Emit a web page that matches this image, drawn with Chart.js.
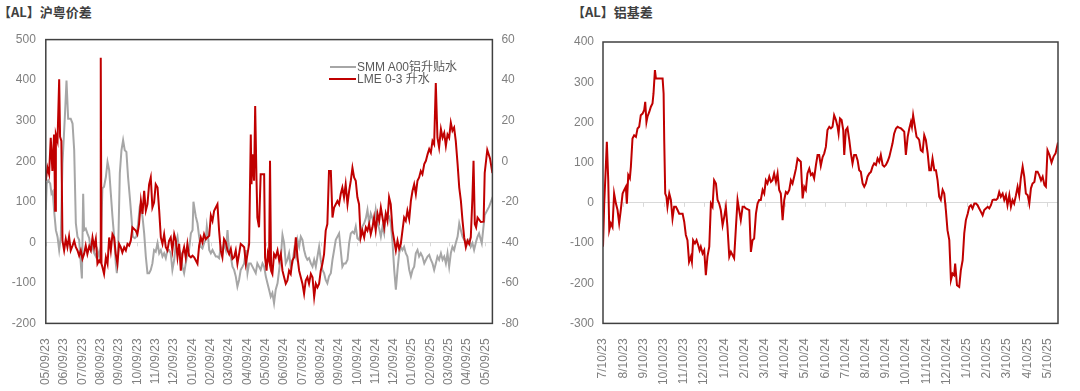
<!DOCTYPE html>
<html><head><meta charset="utf-8">
<script src="https://cdn.jsdelivr.net/npm/chart.js@4.4.1/dist/chart.umd.min.js"></script>
<style>
html,body{margin:0;padding:0;background:#fff;width:1080px;height:391px;overflow:hidden;position:relative;font-family:"Liberation Sans",Arial,"Noto Sans CJK SC",sans-serif;}
canvas{position:absolute;top:0;}
.title{position:absolute;top:2px;font:bold 13px "Noto Sans CJK SC","Liberation Sans",sans-serif;color:#404040;white-space:nowrap;}
.lg{position:absolute;font:12px "Liberation Sans",Arial,"Noto Sans CJK SC",sans-serif;color:#595959;white-space:nowrap;line-height:14px;}
.ln{position:absolute;}
</style></head>
<body>
<div class="title" style="left:-2px">【AL】沪粤价差</div>
<div class="title" style="left:572px">【AL】铝基差</div>
<canvas id="c1" width="540" height="391" style="left:0"></canvas>
<canvas id="c2" width="540" height="391" style="left:540px"></canvas>
<div class="ln" style="left:330px;top:66px;width:26px;height:2px;background:#a6a6a6"></div>
<div class="lg" style="left:357px;top:60px">SMM A00铝升贴水</div>
<div class="ln" style="left:329px;top:77.5px;width:27px;height:2.5px;background:#c00000"></div>
<div class="lg" style="left:357px;top:72px">LME 0-3 升水</div>
<script>
// ---------- left chart: 沪粤价差 ----------
const leftTickLabels = ["05/09/23","06/09/23","07/09/23","08/09/23","09/09/23","10/09/23","11/09/23","12/09/23","01/09/24","02/09/24","03/09/24","04/09/24","05/09/24","06/09/24","07/09/24","08/09/24","09/09/24","10/09/24","11/09/24","12/09/24","01/09/25","02/09/25","03/09/25","04/09/25","05/09/25"];
// x positions in months after 05/09/23
const smmMonths = [0,0.05,0.13,0.24,0.31,0.38,0.45,0.55,0.64,0.73,0.82,0.91,1.04,1.13,1.22,1.36,1.46,1.55,1.64,1.73,1.82,1.91,1.97,2.04,2.09,2.18,2.27,2.37,2.46,2.55,2.64,2.73,2.82,2.91,3.00,3.09,3.18,3.28,3.37,3.46,3.55,3.64,3.73,3.82,3.88,3.95,4.04,4.13,4.22,4.31,4.40,4.49,4.60,4.68,4.75,4.86,4.95,5.04,5.13,5.19,5.28,5.37,5.46,5.55,5.64,5.73,5.82,5.91,6.00,6.10,6.19,6.28,6.37,6.46,6.55,6.64,6.73,6.82,6.91,7.01,7.10,7.19,7.28,7.37,7.46,7.55,7.64,7.73,7.82,7.92,8.01,8.06,8.13,8.19,8.28,8.37,8.46,8.55,8.64,8.73,8.79,8.86,8.92,9.01,9.10,9.19,9.28,9.37,9.46,9.55,9.64,9.73,9.83,9.92,10.01,10.10,10.19,10.28,10.37,10.46,10.55,10.64,10.74,10.83,10.92,11.01,11.10,11.19,11.28,11.37,11.46,11.55,11.64,11.73,11.83,11.92,12.01,12.10,12.19,12.28,12.37,12.46,12.55,12.65,12.74,12.83,12.92,13.01,13.10,13.19,13.28,13.37,13.46,13.56,13.65,13.74,13.83,13.92,14.01,14.10,14.19,14.28,14.37,14.47,14.56,14.65,14.74,14.83,14.92,15.01,15.10,15.19,15.28,15.37,15.46,15.56,15.65,15.74,15.83,15.92,16.01,16.10,16.19,16.28,16.37,16.47,16.56,16.65,16.74,16.83,16.92,17.01,17.10,17.19,17.28,17.38,17.47,17.56,17.65,17.74,17.83,17.92,18.01,18.11,18.20,18.29,18.38,18.47,18.56,18.65,18.74,18.83,18.93,19.02,19.11,19.20,19.29,19.38,19.47,19.56,19.65,19.74,19.84,19.93,20.02,20.11,20.20,20.29,20.38,20.47,20.56,20.66,20.75,20.84,20.93,21.02,21.11,21.20,21.29,21.38,21.47,21.57,21.66,21.75,21.84,21.93,22.02,22.11,22.20,22.29,22.38,22.48,22.57,22.66,22.75,22.84,22.93,23.02,23.11,23.20,23.29,23.38,23.49,23.57,23.65,23.80,23.96,24.20,24.40];
const smmValues = [80,145,153,145,120,125,80,30,14,-19,14,194,309,399,305,305,293,227,47,14,6,-52,-89,120,30,34,22,10,-19,-11,-27,-35,-19,-35,-11,133,137,161,198,178,120,63,14,-52,-76,-19,170,227,252,227,223,161,104,59,14,10,14,47,88,96,63,22,-35,-76,-76,-68,-52,-19,-23,-2,-27,-19,-35,-27,-39,-19,-19,-27,-68,-43,-2,14,-19,-27,-60,-76,-52,-27,-19,22,30,100,80,63,47,14,-11,-15,-2,6,39,14,-19,-27,-19,-27,-35,-35,-39,-11,-27,-2,-19,30,-27,-35,-60,-68,-84,-109,-93,-68,-60,-52,-19,-76,-52,-52,-60,-68,-76,-52,-60,-68,-52,-60,-84,-101,-117,-134,-125,-150,-117,-101,-68,-35,18,-2,-52,-43,-27,-60,-52,-19,-35,6,-11,14,6,-19,-35,-43,-39,-52,-60,-43,-60,-35,-11,-43,-68,-76,-93,-101,-84,-76,-43,-19,6,14,22,-19,-60,-52,-52,-43,-2,22,26,22,39,10,6,22,39,47,59,80,47,71,59,47,80,47,34,14,39,22,71,59,63,47,-2,-68,-117,-68,-27,-11,-19,-11,-27,-35,-68,-84,-68,-60,-27,-19,-35,-27,-35,-52,-43,-35,-31,-43,-52,-68,-52,-35,-43,-27,-43,-35,-52,-27,-60,-27,-11,-19,-2,14,47,30,14,6,2,-2,6,-11,-2,-19,2,14,22,-2,67,88,112];
const lmeMonths = [0,0.09,0.18,0.27,0.36,0.45,0.51,0.55,0.64,0.73,0.78,0.85,0.91,1.00,1.09,1.18,1.27,1.36,1.46,1.55,1.64,1.73,1.82,1.91,2.00,2.09,2.18,2.27,2.37,2.46,2.55,2.64,2.73,2.82,2.91,2.97,3.00,3.04,3.09,3.18,3.28,3.37,3.46,3.55,3.64,3.73,3.82,3.91,4.00,4.09,4.18,4.28,4.37,4.46,4.55,4.64,4.73,4.82,4.91,5.00,5.09,5.19,5.28,5.37,5.46,5.55,5.64,5.73,5.82,5.91,6.00,6.10,6.19,6.28,6.37,6.46,6.55,6.64,6.73,6.82,6.91,7.01,7.10,7.19,7.28,7.37,7.46,7.55,7.64,7.73,7.82,7.92,8.01,8.10,8.19,8.28,8.37,8.46,8.55,8.64,8.73,8.82,8.92,9.01,9.10,9.19,9.28,9.37,9.46,9.55,9.64,9.73,9.83,9.92,10.01,10.10,10.19,10.28,10.37,10.46,10.55,10.64,10.74,10.83,10.92,11.01,11.10,11.19,11.23,11.28,11.37,11.43,11.50,11.55,11.64,11.73,11.92,11.97,12.05,12.12,12.19,12.24,12.30,12.37,12.46,12.55,12.65,12.74,12.83,12.92,13.01,13.10,13.19,13.28,13.37,13.46,13.56,13.65,13.74,13.83,13.92,14.01,14.10,14.19,14.28,14.37,14.47,14.56,14.65,14.74,14.83,14.92,15.01,15.10,15.19,15.28,15.37,15.46,15.56,15.65,15.74,15.83,15.92,16.01,16.10,16.19,16.28,16.37,16.47,16.56,16.65,16.74,16.83,16.92,17.01,17.10,17.19,17.28,17.38,17.47,17.56,17.65,17.74,17.83,17.92,18.01,18.11,18.20,18.29,18.38,18.47,18.56,18.65,18.74,18.83,18.93,19.02,19.11,19.20,19.29,19.38,19.47,19.56,19.65,19.74,19.84,19.93,20.02,20.11,20.20,20.29,20.38,20.47,20.56,20.66,20.75,20.84,20.93,21.02,21.11,21.20,21.29,21.38,21.47,21.57,21.66,21.75,21.84,21.93,22.02,22.11,22.20,22.29,22.38,22.48,22.57,22.66,22.75,22.84,22.93,23.02,23.11,23.20,23.29,23.35,23.42,23.49,23.57,23.75,23.90,23.96,24.10,24.25,24.38];
const lmeValues = [-9.6,-3.2,-6.4,11.6,-4.8,13.2,-24.4,13.2,10,40.4,12,10,-39.2,-44,-38.4,-42.4,-37.2,-44,-41.6,-39.2,-42.4,-44,-46.6,-44,-48.2,-45.8,-41.6,-45.8,-42,-44,-37.6,-42.4,-38.4,-50.6,-49,-50,51,-50.6,-52.2,-55.6,-47.4,-50.6,-37.6,-44,-36,-37.6,-45.8,-50.6,-40.8,-42.4,-45,-42.4,-44,-40.8,-41.6,-39.2,-32.6,-33.4,-34.2,-36,-31,-19.6,-26,-14.6,-24.4,-21.2,-11.4,-8,-22.8,-20.4,-11.4,-13,-24.4,-37.6,-40.8,-36,-42.4,-44,-39.2,-37.6,-44,-36,-39.2,-47.4,-40.8,-54,-45.8,-42.4,-47.4,-40.8,-46.6,-47.4,-46.6,-47.4,-49,-50.6,-41.6,-37.6,-40,-36,-38.4,-37.6,-36.8,-26.8,-29.4,-24.4,-22.8,-21.2,-34.2,-44,-47.4,-38.4,-40,-44,-45.8,-43.2,-48.2,-47.4,-44,-50.6,-45.8,-40.8,-41.6,-42.4,-50.6,-45.8,-40.8,13.2,-11.4,3.4,-9.6,27.2,-8,-27.8,-32.6,-6.4,-6.4,-47.4,-54,-45.8,-49,0.2,-54,-55.6,-45.8,-47.4,-44,-49,-45.8,-54,-57.2,-60.4,-58.8,-54,-55.6,-49,-47.4,-37.6,-47.4,-54,-57.2,-60.4,-65.4,-58.8,-57.2,-60.4,-55.6,-57.2,-67,-60.4,-62.2,-60.4,-54,-50.6,-45.8,-34.2,-31,-4.8,-4.8,-27.8,-22.8,-21.2,-19.6,-21.2,-16.2,-13,-17.8,-11.4,-21.2,-14.6,-9.6,-3.2,-8,-9.6,-17.8,-21.2,-37.6,-34.2,-37.6,-32.6,-34.2,-31,-36,-32.6,-27.8,-34.2,-26,-29.4,-22.8,-27.8,-32.6,-26,-29.4,-17.8,-21.2,-34.2,-39.2,-44,-39.2,-43.2,-40.8,-34.2,-27.8,-29.4,-24.4,-28.6,-19.6,-14.6,-11.4,-16.2,-9.6,-8,-4.8,-6.4,-1.4,0.2,3.4,6,4.2,10,8.4,38.6,11.6,6.8,15.8,11.6,14,7.6,13.2,11.6,19,15,16.6,10,-1.4,-13,-19.6,-29.4,-37.6,-42.4,-39.2,-40.8,-37.6,-17.8,0.2,-31,-32.6,-27.8,-30,-29.8,-5.8,5.6,1.4,-5.8];

// ---------- right chart: 铝基差 ----------
const rightTickLabels = ["7/10/23","8/10/23","9/10/23","10/10/23","11/10/23","12/10/23","1/10/24","2/10/24","3/10/24","4/10/24","5/10/24","6/10/24","7/10/24","8/10/24","9/10/24","10/10/24","11/10/24","12/10/24","1/10/25","2/10/25","3/10/25","4/10/25","5/10/25"];
// x positions in months after 7/10/23
const basisMonths = [0,0.06,0.14,0.19,0.26,0.31,0.39,0.47,0.55,0.64,0.72,0.80,0.88,0.97,1.05,1.13,1.18,1.25,1.33,1.38,1.46,1.54,1.63,1.71,1.79,1.87,1.96,2.04,2.09,2.15,2.20,2.29,2.37,2.45,2.50,2.57,2.62,2.95,3.00,3.03,3.08,3.14,3.19,3.28,3.36,3.44,3.52,3.61,3.69,3.77,3.94,4.02,4.10,4.18,4.26,4.35,4.40,4.46,4.55,4.63,4.71,4.78,4.84,4.93,5.01,5.09,5.17,5.26,5.34,5.42,5.50,5.59,5.67,5.75,5.83,5.92,6.00,6.08,6.16,6.25,6.33,6.41,6.49,6.58,6.66,6.74,6.82,6.91,6.99,7.07,7.24,7.32,7.40,7.48,7.57,7.65,7.73,7.81,7.90,7.98,8.06,8.14,8.23,8.31,8.39,8.47,8.56,8.64,8.72,8.80,8.89,8.97,9.05,9.13,9.22,9.30,9.38,9.46,9.55,9.63,9.71,9.79,9.88,9.96,10.04,10.12,10.21,10.29,10.37,10.45,10.54,10.62,10.70,10.78,10.87,10.95,11.03,11.11,11.20,11.28,11.36,11.44,11.53,11.61,11.66,11.73,11.81,11.89,11.94,12.02,12.10,12.19,12.27,12.35,12.43,12.52,12.60,12.68,12.76,12.85,12.93,13.01,13.09,13.18,13.26,13.34,13.42,13.51,13.59,13.67,13.75,13.84,13.92,14.00,14.08,14.17,14.25,14.33,14.41,14.50,14.58,14.66,14.75,14.83,14.91,14.99,15.08,15.16,15.24,15.29,15.35,15.44,15.52,15.60,15.65,15.73,15.82,15.90,15.98,16.07,16.15,16.23,16.31,16.40,16.48,16.56,16.64,16.72,16.81,16.89,16.97,17.05,17.14,17.22,17.30,17.38,17.43,17.52,17.63,17.71,17.80,17.88,17.96,18.05,18.13,18.21,18.29,18.38,18.46,18.54,18.62,18.70,18.79,18.87,18.95,19.04,19.12,19.20,19.28,19.36,19.45,19.53,19.61,19.69,19.78,19.86,19.94,20.02,20.11,20.19,20.27,20.35,20.44,20.52,20.60,20.68,20.77,20.85,20.93,21.02,21.10,21.18,21.26,21.35,21.43,21.51,21.59,21.68,21.76,21.85,21.92,22.00,22.10,22.20,22.30,22.40,22.52];
const basisValues = [-109,-2,90,152,56,-68,-51,-60,23,-2,-18,-51,-18,23,32,40,-2,69,61,90,160,168,164,185,189,218,222,231,251,201,214,226,239,247,272,330,309,309,272,156,23,15,-10,23,7,-39,-10,-10,-18,-27,-27,-47,-80,-93,-147,-134,-147,-93,-101,-93,-105,-118,-109,-126,-118,-180,-134,-109,-2,-10,56,48,7,-2,-18,-56,-35,-10,-60,-134,-122,-130,-138,-60,7,-18,-43,-10,-10,-14,-18,-122,-93,-89,-27,-2,7,7,32,23,56,48,65,52,56,73,52,73,32,23,-43,7,27,23,32,56,48,65,85,110,106,102,11,40,32,73,85,69,73,61,94,119,119,92,114,123,139,181,189,185,189,218,206,189,172,210,206,181,119,181,187,156,123,98,119,119,106,81,77,48,40,48,65,73,77,90,98,94,110,102,119,94,90,94,102,114,131,148,172,185,189,187,185,181,177,119,164,185,201,189,218,189,164,160,156,131,127,168,156,123,81,81,110,81,81,56,15,7,32,23,-18,-68,-93,-192,-176,-180,-151,-205,-209,-168,-143,-76,-43,-27,-10,-6,-14,-2,-2,-6,-14,-22,-31,-18,-14,-10,-14,-6,7,8,7,11,27,15,23,7,19,-6,19,-10,7,-2,19,40,19,61,90,65,23,19,-2,36,48,52,77,77,69,56,65,44,40,131,119,100,115,123,150];

const TICK_COLOR = '#7f7f7f';
const FONT = '"Liberation Sans", Arial, "Noto Sans CJK SC", sans-serif';
Chart.defaults.font.family = FONT;
Chart.defaults.font.size = 12;
Chart.defaults.color = TICK_COLOR;

const pts = (xs, ys) => xs.map((x, i) => ({x: x, y: ys[i]}));

// frame + zero-axis tick marks
const framePlugin = {
  id: 'frame',
  beforeDatasetsDraw(chart) {
    const ctx = chart.ctx, xs = chart.scales.x, ys = chart.scales.y;
    const y0 = ys.getPixelForValue(0);
    ctx.save();
    ctx.strokeStyle = '#d9d9d9';
    ctx.lineWidth = 1;
    ctx.beginPath();
    xs.ticks.forEach(t => {
      const px = Math.round(xs.getPixelForValue(t.value)) + 0.5;
      ctx.moveTo(px, y0); ctx.lineTo(px, y0 + 4);
    });
    ctx.stroke();
    ctx.restore();
  },
  afterDraw(chart) {
    const a = chart.chartArea, ctx = chart.ctx;
    ctx.save();
    ctx.strokeStyle = '#404040';
    ctx.lineWidth = 1.5;
    ctx.strokeRect(a.left, a.top, a.right - a.left, a.bottom - a.top);
    ctx.restore();
  }
};

function xAxis(labels, maxM, height) {
  return {
    type: 'linear', position: 'bottom', min: 0, max: maxM,
    grid: {display: false}, border: {display: false},
    ticks: {
      stepSize: 1, autoSkip: false, includeBounds: false,
      maxRotation: 90, minRotation: 90, padding: 7, color: TICK_COLOR,
      font: {size: 12},
      callback: v => { const i = Math.round(v); return Math.abs(v - i) < 1e-6 ? (labels[i] || '') : ''; }
    },
    afterFit: s => { s.height = height; }
  };
}
function yAxis(pos, min, max, step, width, pad, zero) {
  return {
    type: 'linear', position: pos, min: min, max: max,
    border: {display: false},
    grid: zero ? {drawTicks: false, lineWidth: 1, color: c => c.tick.value === 0 ? '#d9d9d9' : 'rgba(0,0,0,0)'} : {display: false, drawTicks: false},
    ticks: {stepSize: step, padding: pad, color: TICK_COLOR, font: {size: 12}},
    afterFit: s => { s.width = width; }
  };
}

new Chart(document.getElementById('c1'), {
  type: 'line',
  data: {datasets: [
    {label: 'LME 0-3 升水', data: pts(lmeMonths, lmeValues), yAxisID: 'y1', borderColor: '#c00000', borderWidth: 2, pointRadius: 0, tension: 0, order: 0},
    {label: 'SMM A00铝升贴水', data: pts(smmMonths, smmValues), yAxisID: 'y', borderColor: '#a6a6a6', borderWidth: 2, pointRadius: 0, tension: 0, order: 1}
  ]},
  options: {
    responsive: false, animation: false, events: [],
    layout: {padding: {top: 39.6, left: 0, right: 0, bottom: 0}},
    plugins: {legend: {display: false}, tooltip: {enabled: false}},
    scales: {
      x: xAxis(leftTickLabels, 24.38, 67.6),
      y: yAxis('left', -200, 500, 100, 45.8, 10, true),
      y1: yAxis('right', -80, 60, 20, 47.6, 9, false)
    }
  },
  plugins: [framePlugin]
});

new Chart(document.getElementById('c2'), {
  type: 'line',
  data: {datasets: [
    {label: '铝基差', data: pts(basisMonths, basisValues), yAxisID: 'y', borderColor: '#c00000', borderWidth: 2, pointRadius: 0, tension: 0}
  ]},
  options: {
    responsive: false, animation: false, events: [],
    layout: {padding: {top: 42, left: 0, right: 22, bottom: 0}},
    plugins: {legend: {display: false}, tooltip: {enabled: false}},
    scales: {
      x: xAxis(rightTickLabels, 22.52, 67.6),
      y: yAxis('left', -300, 400, 100, 63, 9, true)
    }
  },
  plugins: [framePlugin]
});
</script>
</body></html>
